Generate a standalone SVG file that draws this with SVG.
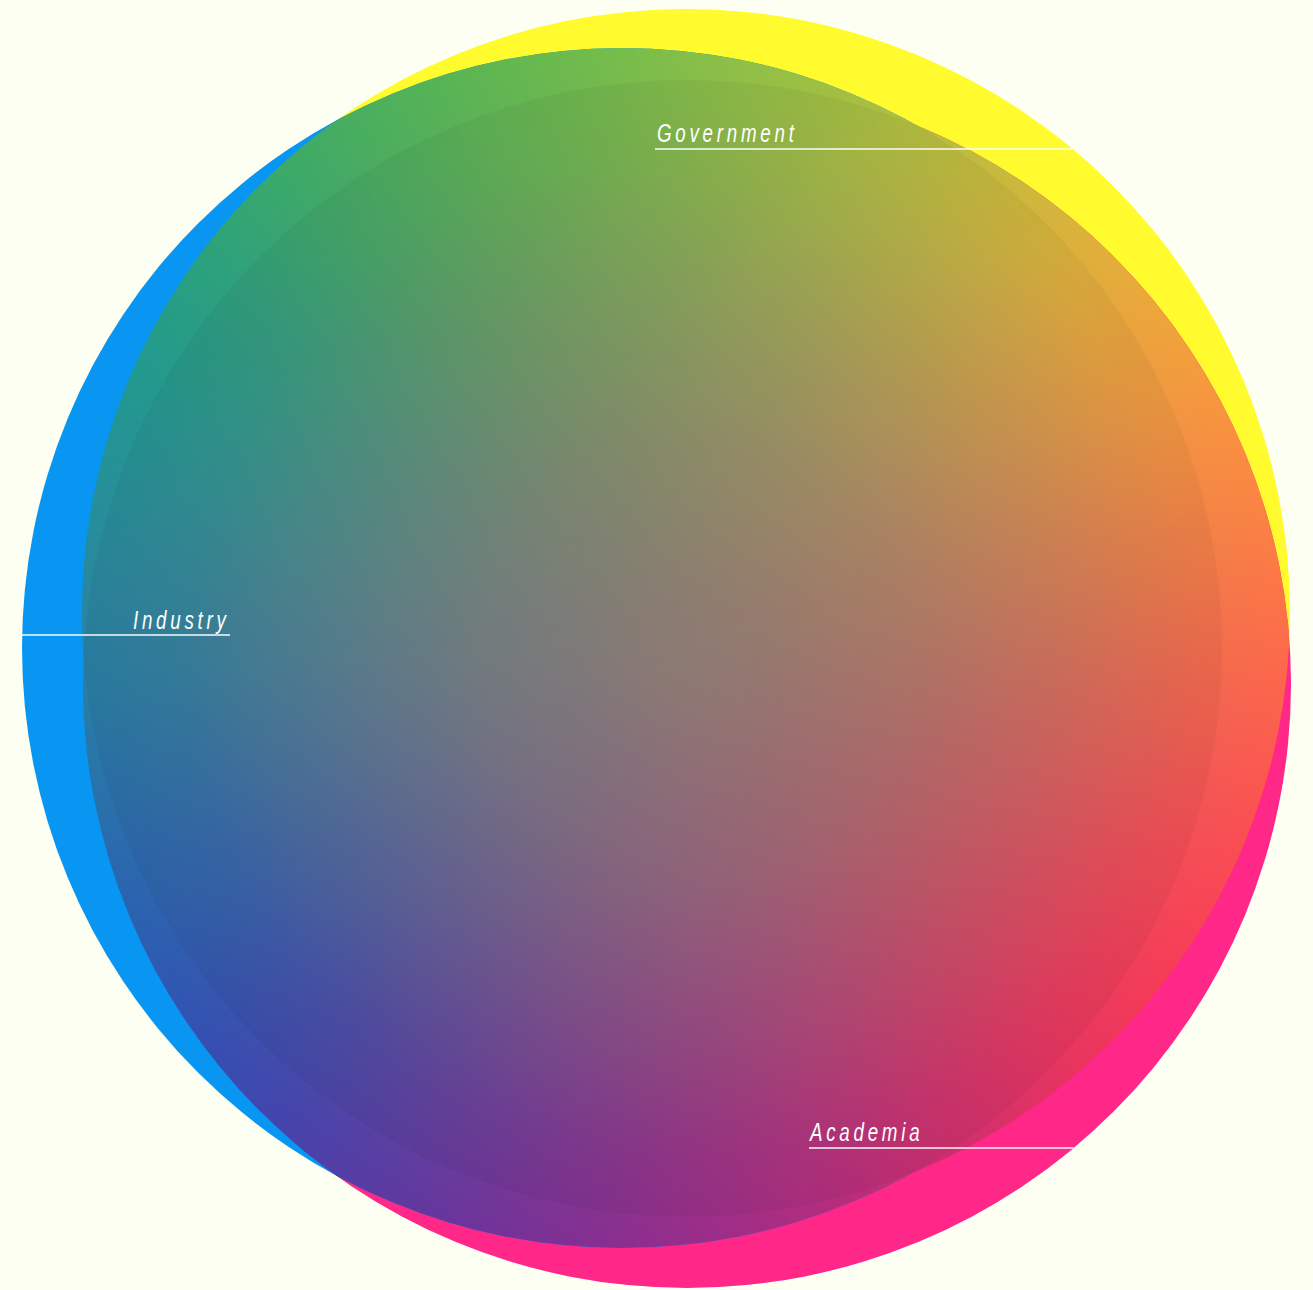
<svg xmlns="http://www.w3.org/2000/svg" width="1313" height="1290" viewBox="0 0 1313 1290">
  <style>
    .lbl { font-family: "Liberation Sans", Arial, sans-serif; font-style: italic; font-size: 25px; letter-spacing: 5px; fill: #ffffff; }
    .lead { stroke: #ffffff; stroke-opacity: 0.72; stroke-width: 2; fill: none; }
  </style>
  <defs>
    <clipPath id="cY"><circle cx="686" cy="613" r="604"/></clipPath>
    <clipPath id="cP"><circle cx="687" cy="684" r="604"/></clipPath>
    <clipPath id="cB"><circle cx="622" cy="648" r="600"/></clipPath>
    <filter id="soft" filterUnits="userSpaceOnUse" x="-400" y="-400" width="2200" height="2200" color-interpolation-filters="sRGB">
      <feGaussianBlur stdDeviation="70"/>
    </filter>
    <radialGradient id="greyCore" gradientUnits="userSpaceOnUse" cx="690" cy="650" r="615">
      <stop offset="0" stop-color="#938078" stop-opacity="0.95"/>
      <stop offset="0.35" stop-color="#938078" stop-opacity="0.72"/>
      <stop offset="0.6" stop-color="#938078" stop-opacity="0.42"/>
      <stop offset="0.82" stop-color="#938078" stop-opacity="0.14"/>
      <stop offset="1" stop-color="#938078" stop-opacity="0"/>
    </radialGradient>
    <g id="spectrum">
      <g filter="url(#soft)">
        <path d="M690,650 L690,-350 L863.6,-334.8 Z" fill="#8fc344"/>
        <path d="M690,650 L863.6,-334.8 L1032,-289.7 Z" fill="#a4c340"/>
        <path d="M690,650 L1032,-289.7 L1190,-216 Z" fill="#b9c23c"/>
        <path d="M690,650 L1190,-216 L1332.8,-116 Z" fill="#cfbd39"/>
        <path d="M690,650 L1332.8,-116 L1456,7.2 Z" fill="#e6b436"/>
        <path d="M690,650 L1456,7.2 L1556,150 Z" fill="#f5a737"/>
        <path d="M690,650 L1556,150 L1629.7,308 Z" fill="#fd973b"/>
        <path d="M690,650 L1629.7,308 L1674.8,476.4 Z" fill="#ff8640"/>
        <path d="M690,650 L1674.8,476.4 L1690,650 Z" fill="#ff7345"/>
        <path d="M690,650 L1690,650 L1674.8,823.6 Z" fill="#ff624b"/>
        <path d="M690,650 L1674.8,823.6 L1629.7,992 Z" fill="#ff5250"/>
        <path d="M690,650 L1629.7,992 L1556,1150 Z" fill="#ff4353"/>
        <path d="M690,650 L1556,1150 L1456,1292.8 Z" fill="#fb3856"/>
        <path d="M690,650 L1456,1292.8 L1332.8,1416 Z" fill="#f4305a"/>
        <path d="M690,650 L1332.8,1416 L1190,1516 Z" fill="#e12c65"/>
        <path d="M690,650 L1190,1516 L1032,1589.7 Z" fill="#cd2971"/>
        <path d="M690,650 L1032,1589.7 L863.6,1634.8 Z" fill="#b8287e"/>
        <path d="M690,650 L863.6,1634.8 L690,1650 Z" fill="#a32987"/>
        <path d="M690,650 L690,1650 L516.4,1634.8 Z" fill="#8e2b8f"/>
        <path d="M690,650 L516.4,1634.8 L348,1589.7 Z" fill="#7a3096"/>
        <path d="M690,650 L348,1589.7 L190,1516 Z" fill="#65379e"/>
        <path d="M690,650 L190,1516 L47.2,1416 Z" fill="#503fa7"/>
        <path d="M690,650 L47.2,1416 L-76,1292.8 Z" fill="#3c48b0"/>
        <path d="M690,650 L-76,1292.8 L-176,1150 Z" fill="#3055b3"/>
        <path d="M690,650 L-176,1150 L-249.7,992 Z" fill="#2963b1"/>
        <path d="M690,650 L-249.7,992 L-294.8,823.6 Z" fill="#2870ac"/>
        <path d="M690,650 L-294.8,823.6 L-310,650 Z" fill="#297ca7"/>
        <path d="M690,650 L-310,650 L-294.8,476.4 Z" fill="#2887a1"/>
        <path d="M690,650 L-294.8,476.4 L-249.7,308 Z" fill="#25909a"/>
        <path d="M690,650 L-249.7,308 L-176,150 Z" fill="#209891"/>
        <path d="M690,650 L-176,150 L-76,7.2 Z" fill="#259f83"/>
        <path d="M690,650 L-76,7.2 L47.2,-116 Z" fill="#34a672"/>
        <path d="M690,650 L47.2,-116 L190,-216 Z" fill="#44ad61"/>
        <path d="M690,650 L190,-216 L348,-289.7 Z" fill="#55b355"/>
        <path d="M690,650 L348,-289.7 L516.4,-334.8 Z" fill="#66ba4e"/>
        <path d="M690,650 L516.4,-334.8 L690,-350 Z" fill="#7abf49"/>
      </g>
      <rect x="0" y="0" width="1313" height="1290" fill="url(#greyCore)"/>
    </g>
  </defs>

  <rect x="0" y="0" width="1313" height="1290" fill="#fefff3"/>

  <g id="government">
    <circle cx="686" cy="613" r="604" fill="#fffb2e"/>
  </g>
  <g id="academia">
    <circle cx="687" cy="684" r="604" fill="#ff2787"/>
  </g>
  <g id="industry">
    <circle cx="622" cy="648" r="600" fill="#0896f2"/>
  </g>

  <g id="overlap">
    <g clip-path="url(#cY)"><g clip-path="url(#cB)"><use href="#spectrum"/></g></g>
    <g clip-path="url(#cY)"><g clip-path="url(#cP)"><use href="#spectrum"/></g></g>
    <g clip-path="url(#cP)"><g clip-path="url(#cB)"><use href="#spectrum"/></g></g>
    <g clip-path="url(#cY)"><g clip-path="url(#cP)"><circle cx="622" cy="648" r="600" fill="#000000" fill-opacity="0.04"/></g></g>
  </g>

  <g id="connectors">
    <line class="lead" x1="655" y1="149" x2="1072" y2="149"/>
    <line class="lead" x1="22" y1="635" x2="230" y2="635"/>
    <line class="lead" x1="809" y1="1148" x2="1074" y2="1148"/>
  </g>

  <g id="labels">
    <text class="lbl" transform="translate(657,142) scale(0.75,1)">Government</text>
    <text class="lbl" transform="translate(133,629) scale(0.75,1)">Industry</text>
    <text class="lbl" transform="translate(810,1141) scale(0.75,1)">Academia</text>
  </g>
</svg>
